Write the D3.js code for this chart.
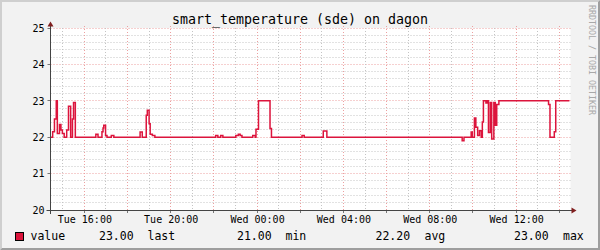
<!DOCTYPE html>
<html>
<head>
<meta charset="utf-8">
<script src="https://cdn.jsdelivr.net/npm/d3@7"></script>
<style>
  html, body { margin: 0; padding: 0; background: #f2f2f2; }
  svg { display: block; font-family: "DejaVu Sans Mono", monospace; }
</style>
</head>
<body>
<div id="chart"></div>
<script>
const title = 'smart_temperature (sde) on dagon';
const watermark = 'RRDTOOL / TOBI OETIKER';
const yTicks = [20, 21, 22, 23, 24, 25];
const xStart = 'Tue 14:26';
const xEnd = 'Wed 14:31';

// step start times and the value held until the next step
const stepTimes = [
  'Tue 14:26', 'Tue 14:32', 'Tue 14:37', 'Tue 14:42', 'Tue 14:45', 'Tue 14:51',
  'Tue 14:55', 'Tue 14:59', 'Tue 15:04', 'Tue 15:11', 'Tue 15:16', 'Tue 15:22',
  'Tue 15:27', 'Tue 15:30', 'Tue 15:35', 'Tue 16:32', 'Tue 16:38', 'Tue 16:49',
  'Tue 16:52', 'Tue 16:54', 'Tue 16:59', 'Tue 17:03', 'Tue 17:15', 'Tue 17:22',
  'Tue 18:35', 'Tue 18:41', 'Tue 18:52', 'Tue 18:55', 'Tue 19:00', 'Tue 19:03',
  'Tue 19:09', 'Tue 19:16', 'Tue 22:05', 'Tue 22:11', 'Tue 22:19', 'Tue 22:25',
  'Tue 23:01', 'Tue 23:08', 'Tue 23:13', 'Tue 23:18', 'Tue 23:48', 'Tue 23:55',
  'Tue 23:57', 'Wed 00:04', 'Wed 00:36', 'Wed 00:40', 'Wed 02:05', 'Wed 02:11',
  'Wed 03:04', 'Wed 03:14', 'Wed 09:30', 'Wed 09:35', 'Wed 09:55', 'Wed 09:58',
  'Wed 10:04', 'Wed 10:08', 'Wed 10:13', 'Wed 10:18', 'Wed 10:23', 'Wed 10:26',
  'Wed 10:29', 'Wed 10:36', 'Wed 10:39', 'Wed 10:43', 'Wed 10:48', 'Wed 10:52',
  'Wed 10:58', 'Wed 11:02', 'Wed 11:06', 'Wed 11:12', 'Wed 13:30', 'Wed 13:34',
  'Wed 13:46', 'Wed 13:50', 'Wed 14:28'
];
const stepValues = [
  22.0, 22.15, 22.5, 23.0, 22.1, 22.35,
  22.2, 22.1, 22.0, 22.2, 22.85, 22.0,
  22.5, 22.95, 22.0, 22.08, 22.0, 22.15,
  22.25, 22.33, 22.05, 22.0, 22.05, 22.0,
  22.14, 22.0, 22.6, 22.74, 22.37, 22.08,
  22.05, 22.0, 22.05, 22.0, 22.05, 22.0,
  22.05, 22.08, 22.05, 22.0, 22.05, 22.0,
  22.22, 23.0, 22.24, 22.0, 22.05, 22.0,
  22.17, 22.0, 21.9, 22.0, 22.14, 22.0,
  22.53, 22.27, 22.05, 22.18, 22.0, 22.42,
  23.0, 22.94, 23.0, 22.13, 22.95, 21.95,
  22.95, 22.33, 22.9, 23.0, 22.9, 22.0,
  22.15, 23.0, 23.0
];

const legendName = 'value';
const legendNumbers = ['23.00', '21.00', '22.20', '23.00'];
const legendLabels = ['last', 'min', 'avg', 'max'];

function parseTime(s) {
  const [day, hm] = s.split(' ');
  const [h, m] = hm.split(':').map(Number);
  return new Date(2024, 0, day === 'Tue' ? 2 : 3, h, m);
}

const data = stepTimes.map((t, i) => ({ t: parseTime(t), v: stepValues[i] }));

const width = 600;
const height = 250;
const plotLeft = 50.5, plotRight = 570.5, plotTop = 28, plotBottom = 210;

const svg = d3.select('#chart').append('svg')
  .attr('width', width)
  .attr('height', height);

// background + bevel
svg.append('rect').attr('width', width).attr('height', height).attr('fill', '#f2f2f2');
svg.append('polygon')
  .attr('points', `0,${height} 2,${height - 2} 2,2 ${width - 2},2 ${width},0 0,0`)
  .attr('fill', '#cfcfcf');
svg.append('polygon')
  .attr('points', `2,${height - 2} ${width - 2},${height - 2} ${width - 2},2 ${width},0 ${width},${height} 0,${height}`)
  .attr('fill', '#9e9e9e');

const xScale = d3.scaleTime()
  .domain([parseTime(xStart), parseTime(xEnd)])
  .range([plotLeft, plotRight]);

const yScale = d3.scaleLinear()
  .domain([20, 25])
  .range([plotBottom, plotTop]);

// canvas
svg.append('rect')
  .attr('x', plotLeft).attr('y', plotTop)
  .attr('width', plotRight - plotLeft).attr('height', plotBottom - plotTop)
  .attr('fill', '#fff');

const px = v => Math.floor(v) + 0.5;

// horizontal grid
const yMinor = d3.range(0, 26).map(i => +(20 + i * 0.2).toFixed(1)).filter(v => !yTicks.includes(v));
const grid = svg.append('g');

grid.selectAll('.hminor').data(yMinor).join('line')
  .attr('x1', plotLeft).attr('x2', plotRight + 2)
  .attr('y1', d => px(yScale(d))).attr('y2', d => px(yScale(d)))
  .attr('stroke', '#c4c4c4').attr('stroke-dasharray', '1,2');

grid.selectAll('.hmajor').data(yTicks).join('line')
  .attr('x1', plotLeft).attr('x2', plotRight + 2)
  .attr('y1', d => px(yScale(d))).attr('y2', d => px(yScale(d)))
  .attr('stroke', '#eca0a0').attr('stroke-dasharray', '1,2');

// vertical grid
const hours = d3.timeHour.range(xScale.domain()[0], xScale.domain()[1]);
const vMinor = hours.filter(d => d.getHours() % 2 !== 0);
const vMajor = hours.filter(d => d.getHours() % 2 === 0);
const labelHours = hours.filter(d => d.getHours() % 4 === 0);

grid.selectAll('.vminor').data(vMinor).join('line')
  .attr('x1', d => px(xScale(d))).attr('x2', d => px(xScale(d)))
  .attr('y1', plotTop).attr('y2', plotBottom)
  .attr('stroke', '#c4c4c4').attr('stroke-dasharray', '1,2');

grid.selectAll('.vmajor').data(vMajor).join('line')
  .attr('x1', d => px(xScale(d))).attr('x2', d => px(xScale(d)))
  .attr('y1', plotTop - 2).attr('y2', plotBottom)
  .attr('stroke', '#eca0a0').attr('stroke-dasharray', '1,2');

// small ticks outside the axes
grid.selectAll('.ytick').data(yTicks).join('line')
  .attr('x1', plotLeft - 3).attr('x2', plotLeft)
  .attr('y1', d => px(yScale(d))).attr('y2', d => px(yScale(d)))
  .attr('stroke', '#777');
grid.selectAll('.xtick').data(vMajor).join('line')
  .attr('x1', d => px(xScale(d))).attr('x2', d => px(xScale(d)))
  .attr('y1', plotBottom).attr('y2', plotBottom + 3)
  .attr('stroke', '#777');

// series
const line = d3.line()
  .x(d => xScale(d.t))
  .y(d => yScale(d.v))
  .curve(d3.curveStepAfter);

svg.append('path')
  .datum(data)
  .attr('d', line)
  .attr('fill', 'none')
  .attr('stroke', '#dc143c')
  .attr('stroke-width', 1.5);

// axes lines + arrows
svg.append('line')
  .attr('x1', plotLeft - 4).attr('x2', plotRight + 4)
  .attr('y1', plotBottom + 0.5).attr('y2', plotBottom + 0.5)
  .attr('stroke', '#444');
svg.append('line')
  .attr('x1', plotLeft).attr('x2', plotLeft)
  .attr('y1', plotBottom + 4).attr('y2', plotTop - 4)
  .attr('stroke', '#444');
svg.append('polygon')
  .attr('points', `${plotRight + 1},${plotBottom - 2.5} ${plotRight + 1},${plotBottom + 3.5} ${plotRight + 6},${plotBottom + 0.5}`)
  .attr('fill', '#801f1f');
svg.append('polygon')
  .attr('points', `${plotLeft - 3},${plotTop - 1.5} ${plotLeft + 3},${plotTop - 1.5} ${plotLeft},${plotTop - 6.5}`)
  .attr('fill', '#801f1f');

// tick labels
const xAxis = svg.append('g')
  .attr('transform', `translate(0,${plotBottom})`)
  .call(d3.axisBottom(xScale).tickValues(labelHours)
    .tickFormat(d3.timeFormat('%a %H:%M')).tickSize(0).tickPadding(6));
xAxis.select('.domain').remove();
xAxis.selectAll('text')
  .attr('font-family', '"DejaVu Sans Mono", monospace')
  .attr('font-size', 10).attr('fill', '#000');

const yAxis = svg.append('g')
  .attr('transform', `translate(${plotLeft},0)`)
  .call(d3.axisLeft(yScale).tickValues(yTicks).tickFormat(d3.format('d')).tickSize(0).tickPadding(6));
yAxis.select('.domain').remove();
yAxis.selectAll('text')
  .attr('font-family', '"DejaVu Sans Mono", monospace')
  .attr('font-size', 10).attr('fill', '#000');

// title
svg.append('text')
  .attr('x', width / 2).attr('y', 23.5)
  .attr('text-anchor', 'middle')
  .attr('font-size', 13.3)
  .text(title);

// watermark
svg.append('text')
  .attr('transform', 'translate(588.5,5) rotate(90)')
  .attr('font-size', 8.3)
  .attr('fill', '#a8a8a8')
  .text(watermark);

// legend
svg.append('rect')
  .attr('x', 15.5).attr('y', 232.5)
  .attr('width', 8).attr('height', 8)
  .attr('fill', '#dc143c').attr('stroke', '#000');

const legend = svg.append('g').attr('font-size', 11.5).attr('fill', '#000');
legend.append('text').attr('x', 30.5).attr('y', 239.5).text(legendName);
const numX = [99, 237, 375.5, 514];
const labX = [147.5, 285.5, 424.5, 563];
legend.selectAll('.num').data(legendNumbers).join('text')
  .attr('x', (d, i) => numX[i]).attr('y', 239.5).text(d => d);
legend.selectAll('.lab').data(legendLabels).join('text')
  .attr('x', (d, i) => labX[i]).attr('y', 239.5).text(d => d);
</script>
</body>
</html>
